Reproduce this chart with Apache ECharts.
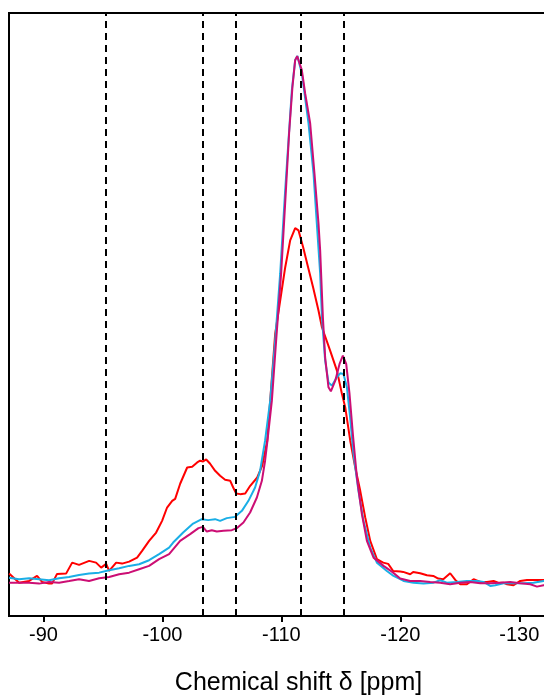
<!DOCTYPE html>
<html>
<head>
<meta charset="utf-8">
<script src="https://cdn.jsdelivr.net/npm/echarts@6/dist/echarts.min.js"></script>
<style>
html,body{margin:0;padding:0;background:#fff;}
#chart{width:544px;height:695px;}
</style>
</head>
<body>
<div id="chart"></div>
<script>
// Chemical shift (ppm), intensity (a.u.)
const redSpectrum = [
[-87.11,7.03],[-87.95,5.53],[-88.79,5.81],[-89.46,6.64],[-89.88,5.65],[-90.47,5.37],[-90.72,5.37],
[-91.14,6.98],[-91.90,7.03],[-92.41,8.85],[-92.99,8.47],[-93.84,9.14],[-94.42,8.85],[-94.85,8.02],
[-95.27,8.64],[-95.52,7.47],[-96.11,8.85],[-96.61,8.69],[-97.20,9.02],[-97.87,9.68],[-98.29,10.80],
[-98.88,12.46],[-99.47,13.84],[-99.97,15.78],[-100.39,17.99],[-100.82,19.10],[-101.07,19.43],
[-101.49,21.93],[-102.08,24.63],[-102.50,24.75],[-102.92,25.46],[-103.17,25.75],[-103.42,25.63],
[-103.68,25.96],[-104.01,25.25],[-104.43,24.08],[-104.85,23.25],[-105.27,22.59],[-105.70,22.42],
[-105.95,21.31],[-106.20,20.31],[-106.54,20.21],[-106.96,20.31],[-107.38,21.59],[-107.97,22.97],
[-108.39,24.92],[-108.64,27.41],[-108.81,29.07],[-109.06,35.71],[-109.48,46.84],[-109.90,52.32],
[-110.32,57.80],[-110.74,62.29],[-111.16,64.33],[-111.44,63.95],[-111.83,61.17],[-112.25,57.80],
[-112.67,54.48],[-113.12,50.66],[-113.41,47.89],[-114.10,44.02],[-114.67,40.69],[-115.09,36.87],
[-115.37,34.60],[-115.79,29.07],[-116.21,24.63],[-116.63,20.76],[-117.05,16.33],[-117.47,12.46],
[-118.03,9.42],[-118.56,8.85],[-118.98,8.64],[-119.40,7.47],[-119.99,7.36],[-120.24,7.31],
[-120.83,6.93],[-121.08,7.31],[-121.67,7.09],[-122.24,6.76],[-122.77,6.64],[-123.19,6.20],
[-123.61,6.10],[-124.19,7.09],[-124.62,5.98],[-125.04,5.27],[-125.60,5.27],[-126.16,6.10],
[-126.72,5.65],[-127.28,5.65],[-127.84,5.81],[-128.23,5.53],[-128.65,5.53],[-128.97,5.27],
[-129.52,5.10],[-130.08,5.81],[-130.65,5.98],[-131.21,5.98],[-132.02,5.98],[-132.5,5.9]
];
const blueSpectrum = [
[-87.11,6.36],[-87.95,6.10],[-88.79,6.26],[-89.63,6.10],[-90.47,5.93],[-91.31,6.26],[-92.15,6.48],
[-92.99,6.81],[-93.83,7.03],[-94.68,7.19],[-95.52,7.59],[-96.36,7.92],[-97.20,8.31],[-98.04,8.59],
[-98.88,9.25],[-99.72,10.25],[-100.56,11.34],[-100.90,12.18],[-101.74,13.84],[-102.58,15.33],
[-103.31,16.06],[-103.84,15.90],[-104.43,16.06],[-104.85,15.78],[-105.41,16.23],[-106.11,16.44],
[-106.68,17.44],[-107.23,19.10],[-107.79,21.31],[-108.21,24.08],[-108.49,27.41],[-108.63,29.07],
[-109.06,35.71],[-109.48,45.68],[-109.90,56.81],[-110.32,70.59],[-110.60,78.90],[-110.88,87.20],
[-111.16,92.19],[-111.35,92.85],[-111.72,89.98],[-112.28,81.72],[-112.70,73.42],[-112.98,65.11],
[-113.26,56.81],[-113.41,49.55],[-113.68,42.36],[-113.96,38.75],[-114.24,38.20],[-114.66,39.58],
[-114.94,40.25],[-115.22,40.15],[-115.51,37.92],[-115.78,32.94],[-116.06,26.91],[-116.48,20.76],
[-116.90,15.78],[-117.47,11.34],[-118.03,8.85],[-118.87,7.47],[-119.43,6.64],[-119.99,6.10],
[-120.27,5.81],[-121.11,5.53],[-121.95,5.37],[-122.79,5.53],[-123.35,5.93],[-123.91,5.53],
[-124.75,5.65],[-125.60,5.81],[-126.44,5.81],[-127.00,5.65],[-127.56,4.98],[-127.98,5.10],
[-128.68,5.43],[-129.52,5.43],[-130.36,5.43],[-131.20,5.53],[-132.04,5.81],[-132.5,5.8]
];
const magentaSpectrum = [
[-87.11,5.53],[-87.95,5.53],[-88.79,5.53],[-89.63,5.37],[-90.47,5.65],[-91.31,5.53],[-92.15,5.81],
[-92.99,6.10],[-93.83,5.81],[-94.68,6.26],[-95.52,6.48],[-96.36,6.93],[-97.20,7.19],[-98.04,7.76],
[-98.88,8.31],[-99.72,9.42],[-100.56,10.25],[-101.49,12.46],[-102.33,13.57],[-103.03,14.57],
[-103.40,14.78],[-103.73,14.00],[-104.15,14.23],[-104.57,14.00],[-105.13,14.12],[-105.83,14.23],
[-106.25,14.57],[-106.81,15.50],[-107.37,17.16],[-107.94,19.65],[-108.36,22.42],[-108.63,25.75],
[-108.83,29.07],[-109.20,35.71],[-109.56,45.68],[-109.98,56.81],[-110.38,70.59],[-110.65,80.06],
[-110.93,87.75],[-111.16,92.19],[-111.33,92.85],[-111.72,90.52],[-112.00,86.65],[-112.42,81.72],
[-112.78,73.42],[-113.12,65.11],[-113.26,60.63],[-113.49,49.55],[-113.68,42.90],[-113.96,37.92],
[-114.16,37.26],[-114.53,39.03],[-114.89,41.81],[-115.17,43.19],[-115.45,41.81],[-115.73,36.82],
[-116.01,30.18],[-116.35,22.97],[-116.77,16.89],[-117.19,12.46],[-117.75,9.68],[-118.59,8.31],
[-119.29,7.36],[-119.99,6.23],[-120.83,5.81],[-121.67,5.81],[-122.51,5.65],[-123.35,5.53],
[-124.19,5.27],[-125.04,5.53],[-125.88,5.65],[-126.72,5.43],[-127.56,5.43],[-128.40,5.53],
[-129.24,5.65],[-130.08,5.43],[-130.93,5.27],[-131.49,4.87],[-132.04,5.10],[-132.5,5.1]
];
const referenceShifts = [-95.2, -103.42, -106.2, -111.64, -115.25];
const tickValues = [-90, -100, -110, -120, -130];
const axisTitle = 'Chemical shift δ [ppm]';

const chart = echarts.init(document.getElementById('chart'), null, {renderer: 'canvas'});
const FONT = 'Liberation Sans, Arial, sans-serif';
function lineSeries(name, data, color) {
  return {
    name: name, type: 'line', data: data, symbol: 'none', smooth: false,
    lineStyle: {color: color, width: 2}, itemStyle: {color: color},
    z: 3, animation: false
  };
}
const series = [
  lineSeries('red', redSpectrum, '#ff0000'),
  lineSeries('blue', blueSpectrum, '#1aaee6'),
  lineSeries('magenta', magentaSpectrum, '#cc0e74')
];
series.push({
  type: 'line', data: [], symbol: 'none', z: 2, animation: false,
  markLine: {
    silent: true, symbol: ['none', 'none'], label: {show: false},
    lineStyle: {color: '#000', width: 2, type: [7, 5]},
    data: referenceShifts.map(v => ({xAxis: v})),
    animation: false
  }
});
chart.setOption({
  animation: false,
  backgroundColor: '#fff',
  grid: {left: 9, right: -5, top: 13, bottom: 79, outerBoundsMode: 'none', containLabel: false,
         show: true, borderColor: '#000', borderWidth: 2, backgroundColor: 'transparent'},
  xAxis: {
    type: 'value', inverse: true, min: -132.5, max: -87.1,
    axisLine: {show: false},
    axisTick: {show: true, customValues: tickValues, length: 6, lineStyle: {color: '#000', width: 2}},
    axisLabel: {show: true, customValues: tickValues, color: '#000', fontSize: 20, fontFamily: FONT, margin: 9},
    splitLine: {show: false},
    name: axisTitle, nameLocation: 'middle', nameGap: 55,
    nameTextStyle: {color: '#000', fontSize: 25, fontFamily: FONT, padding: [0, 0, 0, 39]}
  },
  yAxis: {
    type: 'value', min: 0, max: 100,
    axisLine: {show: false}, axisTick: {show: false}, axisLabel: {show: false}, splitLine: {show: false}
  },
  series: series
});
</script>
</body>
</html>
